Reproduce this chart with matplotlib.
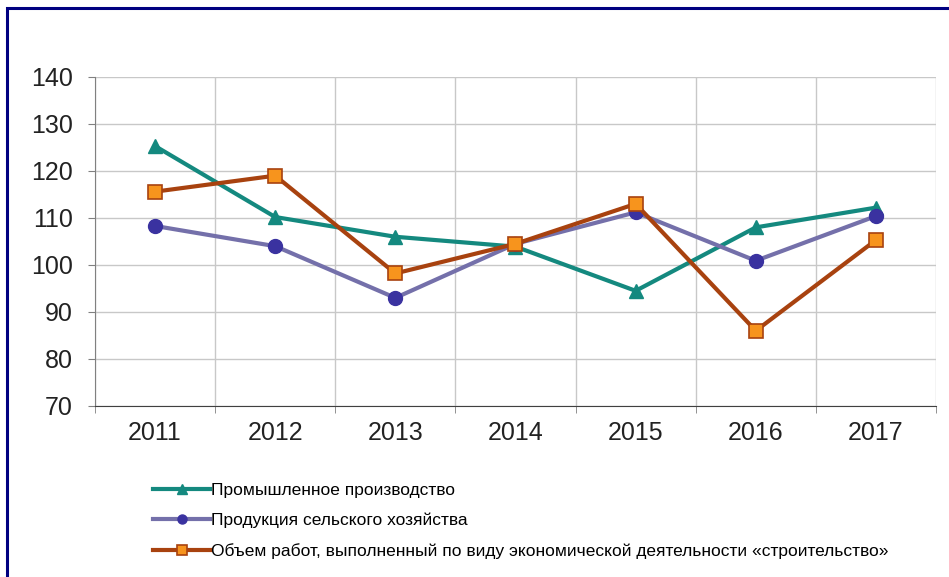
import matplotlib
matplotlib.use('Agg')
import matplotlib.pyplot as plt
from matplotlib.patches import Rectangle

plt.rcParams['font.family'] = ['Liberation Sans', 'DejaVu Sans']

# Data
years = ['2011', '2012', '2013', '2014', '2015', '2016', '2017']
industry = [125.3, 110.2, 106.0, 103.9, 94.5, 108.0, 112.2]
agriculture = [108.3, 104.0, 93.0, 104.5, 111.2, 100.9, 110.4]
construction = [115.6, 119.0, 98.2, 104.5, 113.0, 86.0, 105.3]

labels = [
    'Промышленное производство',
    'Продукция сельского хозяйства',
    'Объем работ, выполненный по виду экономической деятельности «строительство»',
]

fig = plt.figure(figsize=(9.49, 5.77), dpi=100)
ax = fig.add_axes([0.1001, 0.2964, 0.8862, 0.5702])

# Navy frame around the whole chart (only top and left fall inside the picture)
fig.patches.append(Rectangle((0.0075, -0.02), 1.2, 1.0055,
                             transform=fig.transFigure, fill=False,
                             edgecolor='#000080', linewidth=2.2))

x = list(range(len(years)))
ax.plot(x, industry, color='#14897f', linewidth=3, marker='^', markersize=10,
        markerfacecolor='#14897f', markeredgecolor='#14897f', label=labels[0], zorder=3)
ax.plot(x, agriculture, color='#7470aa', linewidth=3, marker='o', markersize=10,
        markerfacecolor='#3a32a0', markeredgecolor='#3a32a0', label=labels[1], zorder=3)
ax.plot(x, construction, color='#a8420f', linewidth=3, marker='s', markersize=10,
        markerfacecolor='#f7941d', markeredgecolor='#a8420f', markeredgewidth=1.2,
        label=labels[2], zorder=4)

ax.set_xlim(-0.5, len(years) - 0.5)
ax.set_ylim(70, 140)
ax.set_yticks(range(70, 141, 10))
ax.set_xticks(x)
ax.set_xticklabels(years)
ax.set_xticks([i - 0.5 for i in range(len(years) + 1)], minor=True)

ax.grid(True, which='major', axis='y', color='#c8c8c8', linewidth=1)
ax.grid(True, which='minor', axis='x', color='#c8c8c8', linewidth=1)
ax.set_axisbelow(True)

for s in ['top', 'right']:
    ax.spines[s].set_visible(False)
ax.spines['left'].set_color('#808080')
ax.spines['bottom'].set_color('#404040')
ax.tick_params(axis='x', which='major', length=0, pad=11, labelsize=18, labelcolor='#222222')
ax.tick_params(axis='x', which='minor', length=5, color='#808080')
ax.tick_params(axis='y', length=5, color='#808080', labelsize=18, labelcolor='#222222', pad=11)

fig.legend(loc='upper left', bbox_to_anchor=(0.154, 0.175), frameon=False,
           fontsize=12.5, handlelength=3.3, handletextpad=0.05, labelspacing=0.85,
           markerscale=0.65, borderaxespad=0)

fig.savefig('out.png', dpi=100)
